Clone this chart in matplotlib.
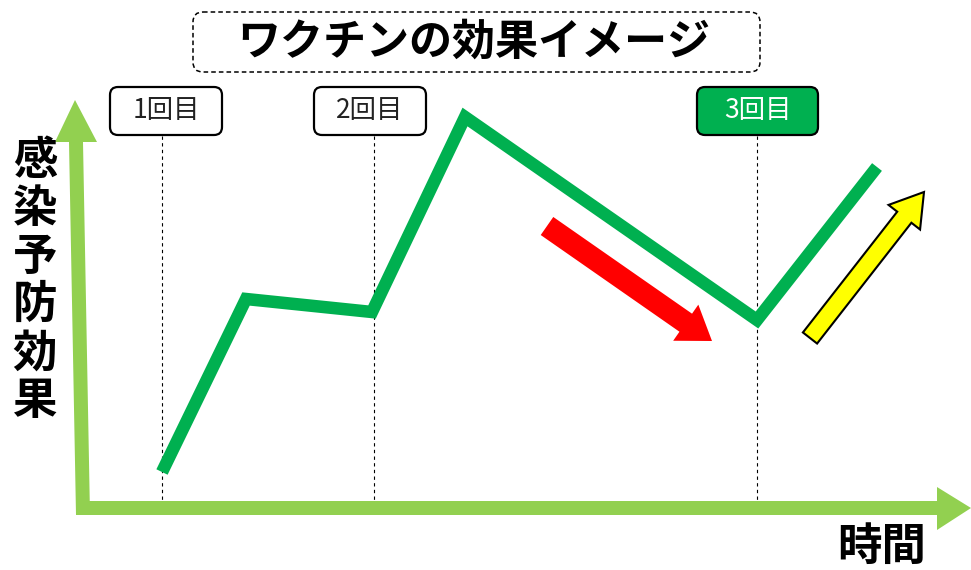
import matplotlib
matplotlib.use("Agg")
import matplotlib.pyplot as plt
from matplotlib.patches import FancyBboxPatch, FancyArrow, Polygon

plt.rcParams['font.family'] = ['Noto Sans CJK JP', 'DejaVu Sans']

# ---- data (in picture units: x = time, y = height from top) ----
time_x = [162, 246, 372, 465, 757, 877]
effect_y = [472, 299, 312, 117, 320, 167]
dose_labels = ['1回目', '2回目', '3回目']
dose_x = [162, 374, 757]
title = 'ワクチンの効果イメージ'
ylabel = '感染予防効果'
xlabel = '時間'

W, H = 971, 570
fig = plt.figure(figsize=(W / 100, H / 100), dpi=100)
ax = fig.add_axes([0, 0, 1, 1])
ax.set_xlim(0, W)
ax.set_ylim(H, 0)
ax.axis('off')

LG = '#92D050'
DG = '#00B050'

# axes arrows
ax.add_patch(Polygon([[69, 142], [76, 515], [90, 515], [83, 142]], closed=True, fc=LG, ec='none'))
ax.add_patch(Polygon([[55, 142], [97, 142], [75, 100]], closed=True, fc=LG, ec='none'))
ax.add_patch(Polygon([[76, 501], [937, 501], [937, 515], [76, 515]], closed=True, fc=LG, ec='none'))
ax.add_patch(Polygon([[937, 487], [937, 530], [971, 508]], closed=True, fc=LG, ec='none'))

# dashed dose lines
for x in dose_x:
    ax.plot([x, x], [136, 502], color='black', lw=0.8, ls=(0, (3, 3)), zorder=2)

# effect line
ax.plot(time_x, effect_y, color=DG, lw=9, solid_capstyle='butt', solid_joinstyle='miter', zorder=3)

# dose boxes
box_w = [112, 112, 121]
box_x0 = [110, 314, 697]
for i, lab in enumerate(dose_labels):
    filled = i == 2
    ax.add_patch(FancyBboxPatch((box_x0[i], 87), box_w[i], 48,
                                boxstyle='round,pad=0,rounding_size=8',
                                fc=DG if filled else 'white', ec='black', lw=1.6, zorder=4))
    ax.text(box_x0[i] + box_w[i] / 2, 110, lab, ha='center', va='center',
            fontsize=19, color='white' if filled else '#222222', zorder=5)

# title box
ax.add_patch(FancyBboxPatch((193, 12), 567, 60, boxstyle='round,pad=0,rounding_size=10',
                            fc='white', ec='black', lw=1.1, ls=(0, (3, 2)), zorder=4))
ax.text(474, 42, title, ha='center', va='center', fontsize=31, fontweight='bold', zorder=5)

# red arrow
ax.add_patch(FancyArrow(547, 226, 165, 115, width=22, head_width=44, head_length=32,
                        length_includes_head=True, fc='#FF0000', ec='none', zorder=3))
# yellow arrow
ax.add_patch(FancyArrow(810, 338, 114, -146, width=18, head_width=40, head_length=32,
                        length_includes_head=True, fc='#FFFF00', ec='black', lw=1.5, zorder=3))

# axis labels
ax.text(35, 281, '\n'.join(ylabel), ha='center', va='center', fontsize=32,
        fontweight='bold', linespacing=1.06)
ax.text(882, 547, xlabel, ha='center', va='center', fontsize=32, fontweight='bold')

fig.savefig('out.png', dpi=100)
